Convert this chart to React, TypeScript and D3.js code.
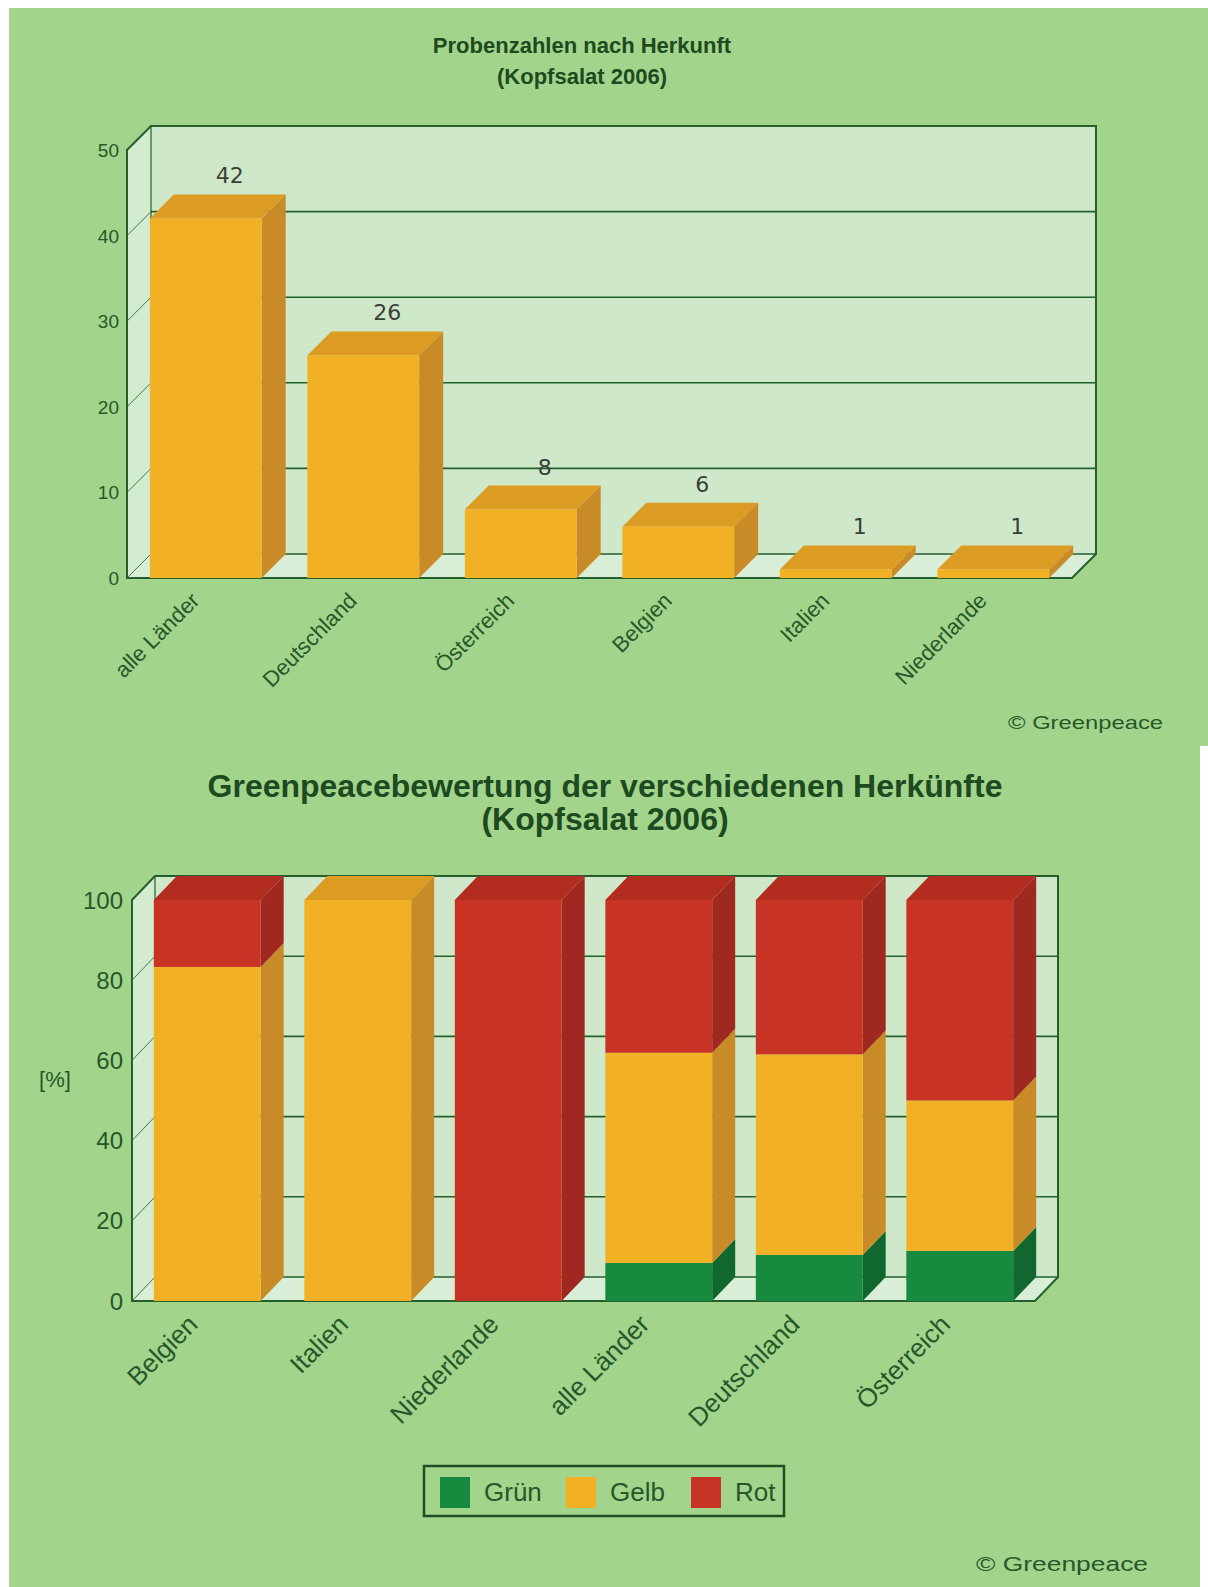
import React from "react";
import * as d3 from "d3";

const W = 1208;
const H = 1587;

// ---- Data: top chart ----
const topTitle = ["Probenzahlen nach Herkunft", "(Kopfsalat 2006)"];
const topCategories = ["alle Länder", "Deutschland", "Österreich", "Belgien", "Italien", "Niederlande"];
const topValues = [42, 26, 8, 6, 1, 1];
const topTicks = [0, 10, 20, 30, 40, 50];

// ---- Data: bottom chart ----
const bottomTitle = ["Greenpeacebewertung der verschiedenen Herkünfte", "(Kopfsalat 2006)"];
const bottomCategories = ["Belgien", "Italien", "Niederlande", "alle Länder", "Deutschland", "Österreich"];
const gruenValues = [0, 0, 0, 9.5, 11.5, 12.5];
const gelbValues = [83.3, 100, 0, 52.4, 50, 37.5];
const rotValues = [16.7, 0, 100, 38.1, 38.5, 50];
const bottomTicks = [0, 20, 40, 60, 80, 100];
const seriesNames = ["Grün", "Gelb", "Rot"];
const credit = "© Greenpeace";
const yAxisTitle = "[%]";

// ---- Styles ----
const BG = "#a3d48b";
const WALL = "#cfe8c9";
const FLOOR = "#d8eed6";
const SIDEWALL = "#d3ebcf";
const LINE = "#245f2c";
const TEXT = "#25582a";
const FONT = "'Liberation Sans', Arial, sans-serif";

const colors: Record<string, { front: string; top: string; side: string }> = {
  "Grün": { front: "#178a3f", top: "#137a37", side: "#10682f" },
  "Gelb": { front: "#f2b124", top: "#dc9b23", side: "#c98b27" },
  "Rot": { front: "#c73426", top: "#b22c20", side: "#9f2820" },
};

type Frame = { fx0: number; fx1: number; base: number; top: number; dx: number; dy: number };

function Frame3D({ f, y, ticks }: { f: Frame; y: d3.ScaleLinear<number, number>; ticks: number[] }) {
  const { fx0, fx1, base, top, dx, dy } = f;
  return (
    <g>
      <rect x={fx0 + dx} y={top - dy} width={fx1 - fx0} height={base - top} fill={WALL} />
      <path
        d={`M${fx0},${base}L${fx1},${base}L${fx1 + dx},${base - dy}L${fx0 + dx},${base - dy}Z`}
        fill={FLOOR}
      />
      <path
        d={`M${fx0},${base}L${fx0},${top}L${fx0 + dx},${top - dy}L${fx0 + dx},${base - dy}Z`}
        fill={SIDEWALL}
      />
      {ticks.map((t) => (
        <g key={t}>
          <line x1={fx0 + dx} x2={fx1 + dx} y1={y(t) - dy} y2={y(t) - dy} stroke={LINE} strokeWidth={1.6} />
          <line x1={fx0} x2={fx0 + dx} y1={y(t)} y2={y(t) - dy} stroke={LINE} strokeWidth={1} opacity={0.8} />
        </g>
      ))}
      <path
        d={`M${fx0},${top}L${fx0},${base}L${fx1},${base}L${fx1 + dx},${base - dy}L${fx1 + dx},${top - dy}L${fx0 + dx},${top - dy}Z`}
        fill="none"
        stroke={LINE}
        strokeWidth={2}
      />
      <line x1={fx0 + dx} x2={fx0 + dx} y1={top - dy} y2={base - dy} stroke={LINE} strokeWidth={1.2} />
    </g>
  );
}

function Box({ x0, x1, y0, y1, dx, dy, c, withTop }: any) {
  return (
    <g>
      <path d={`M${x1},${y1}L${x1 + dx},${y1 - dy}L${x1 + dx},${y0 - dy}L${x1},${y0}Z`} fill={c.side} />
      {withTop && (
        <path d={`M${x0},${y1}L${x1},${y1}L${x1 + dx},${y1 - dy}L${x0 + dx},${y1 - dy}Z`} fill={c.top} />
      )}
      <rect x={x0} y={y1} width={x1 - x0} height={y0 - y1} fill={c.front} />
    </g>
  );
}

function TopChart() {
  const f: Frame = { fx0: 127, fx1: 1072, base: 578, top: 150, dx: 24, dy: 24 };
  const x = d3.scaleBand<string>().domain(topCategories).range([f.fx0, f.fx1]).paddingInner(0.29).paddingOuter(0.145);
  const y = d3.scaleLinear().domain([0, 50]).range([f.base, f.top]);
  return (
    <g>
      {topTitle.map((t, i) => (
        <text key={i} x={582} y={53 + i * 31} textAnchor="middle" fontFamily={FONT} fontWeight="bold" fontSize={22} fill="#1d4a20">
          {t}
        </text>
      ))}
      <Frame3D f={f} y={y} ticks={topTicks} />
      {topTicks.map((t) => (
        <text key={t} x={f.fx0 - 8} y={y(t) + 7} textAnchor="end" fontFamily={FONT} fontSize={19} fill={TEXT}>
          {t}
        </text>
      ))}
      {topCategories.map((c, i) => {
        const x0 = x(c)!;
        const x1 = x0 + x.bandwidth();
        const yv = y(topValues[i]);
        return (
          <g key={c}>
            <Box x0={x0} x1={x1} y0={f.base} y1={yv} dx={f.dx} dy={f.dy} c={colors["Gelb"]} withTop />
            <text x={(x0 + x1) / 2 + f.dx} y={yv - f.dy - 11} textAnchor="middle" fontFamily="'DejaVu Sans', sans-serif" fontSize={22} fill="#3a3f3a">
              {topValues[i]}
            </text>
            <text
              transform={`translate(${(x0 + x1) / 2 - 5},${f.base + 24}) rotate(-45)`}
              textAnchor="end"
              fontFamily={FONT}
              fontSize={22}
              fill={TEXT}
            >
              {c}
            </text>
          </g>
        );
      })}
      <text x={1163} y={729} textAnchor="end" fontFamily={FONT} fontSize={19} fill={TEXT} textLength={155} lengthAdjust="spacingAndGlyphs">
        {credit}
      </text>
    </g>
  );
}

function BottomChart() {
  const f: Frame = { fx0: 132, fx1: 1035, base: 1301, top: 900, dx: 23, dy: 24 };
  const x = d3.scaleBand<string>().domain(bottomCategories).range([f.fx0, f.fx1]).paddingInner(0.29).paddingOuter(0.145);
  const y = d3.scaleLinear().domain([0, 100]).range([f.base, f.top]);
  const rows = bottomCategories.map((c, i) => ({ cat: c, "Grün": gruenValues[i], "Gelb": gelbValues[i], "Rot": rotValues[i] }));
  const stacked = d3.stack<any>().keys(seriesNames)(rows);
  const legendX = [440, 566, 691];
  return (
    <g>
      {bottomTitle.map((t, i) => (
        <text key={i} x={605} y={797 + i * 33} textAnchor="middle" fontFamily={FONT} fontWeight="bold" fontSize={32} fill="#1d4a20">
          {t}
        </text>
      ))}
      <Frame3D f={f} y={y} ticks={bottomTicks} />
      {bottomTicks.map((t) => (
        <text key={t} x={f.fx0 - 9} y={y(t) + 8.5} textAnchor="end" fontFamily={FONT} fontSize={24} fill={TEXT}>
          {t}
        </text>
      ))}
      <text x={55} y={1087} textAnchor="middle" fontFamily={FONT} fontSize={22} fill={TEXT}>
        {yAxisTitle}
      </text>
      {bottomCategories.map((c, i) => {
        const x0 = x(c)!;
        const x1 = x0 + x.bandwidth();
        const segs = stacked.filter((s) => s[i][1] - s[i][0] > 0);
        const topKey = segs[segs.length - 1].key;
        return (
          <g key={c}>
            {segs.map((s) => (
              <Box
                key={s.key}
                x0={x0}
                x1={x1}
                y0={y(s[i][0])}
                y1={y(s[i][1])}
                dx={f.dx}
                dy={f.dy}
                c={colors[s.key]}
                withTop={s.key === topKey}
              />
            ))}
            <text
              transform={`translate(${(x0 + x1) / 2 - 8},${f.base + 25}) rotate(-45)`}
              textAnchor="end"
              fontFamily={FONT}
              fontSize={26}
              fill={TEXT}
            >
              {c}
            </text>
          </g>
        );
      })}
      <rect x={424} y={1466} width={360} height={50} fill="none" stroke="#1c4f22" strokeWidth={2.5} />
      {seriesNames.map((s, i) => {
        const sx = legendX[i];
        return (
          <g key={s}>
            <rect x={sx} y={1477} width={30} height={31} fill={colors[s].front} />
            <text x={sx + 44} y={1501} fontFamily={FONT} fontSize={26} fill={TEXT}>
              {s}
            </text>
          </g>
        );
      })}
      <text x={1148} y={1571} textAnchor="end" fontFamily={FONT} fontSize={20} fill={TEXT} textLength={172} lengthAdjust="spacingAndGlyphs">
        {credit}
      </text>
    </g>
  );
}

export default function App() {
  return (
    <div style={{ position: "absolute", left: 0, top: 0, width: W, height: H }}>
      <svg width={W} height={H} viewBox={`0 0 ${W} ${H}`} style={{ display: "block" }}>
        <rect x={0} y={0} width={W} height={H} fill="#ffffff" />
        <rect x={9} y={8} width={W - 9} height={H - 8} fill={BG} />
        <rect x={1200} y={746} width={8} height={H - 746} fill="#ffffff" />
        <TopChart />
        <BottomChart />
      </svg>
    </div>
  );
}
